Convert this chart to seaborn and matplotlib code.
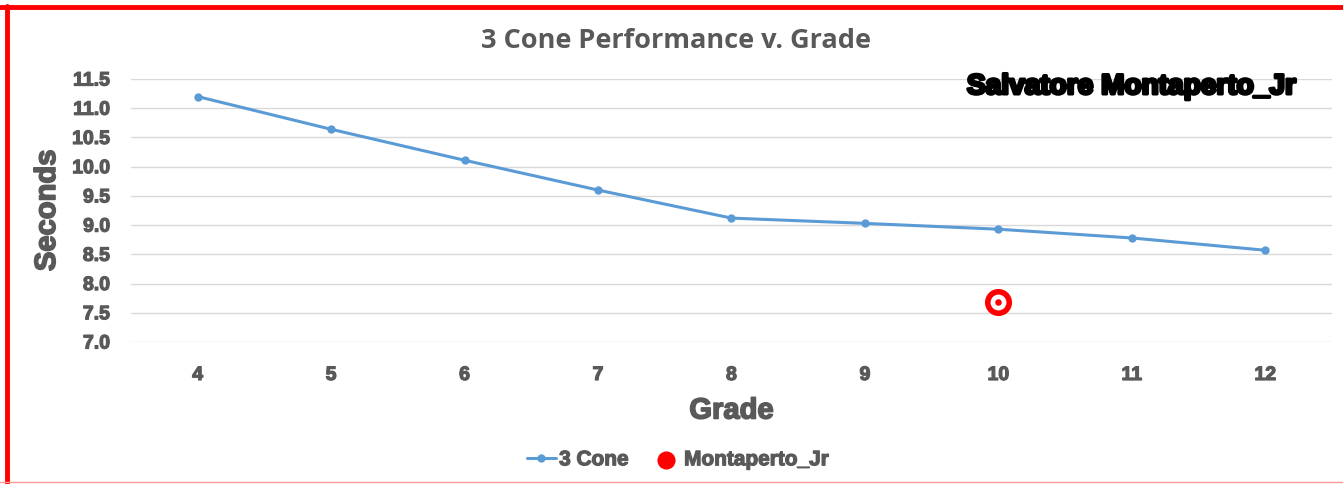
import pandas as pd
import matplotlib.pyplot as plt
import matplotlib.patheffects as pe
from matplotlib.lines import Line2D
import seaborn as sns

# data
grades = ['4', '5', '6', '7', '8', '9', '10', '11', '12']
cone_seconds = [11.20, 10.64, 10.11, 9.60, 9.12, 9.03, 8.93, 8.78, 8.57]
athlete_grade = ['10']
athlete_seconds = [7.68]
y_ticks = [7.0, 7.5, 8.0, 8.5, 9.0, 9.5, 10.0, 10.5, 11.0, 11.5]

GREY = '#595959'
BLUE = '#5B9BD5'
RED = '#FF0000'

sns.set_theme(style='white')
plt.rcParams['font.family'] = ['Liberation Sans', 'DejaVu Sans']


def heavy(color, w):
    # fake an Arial Black look by stroking the bold face
    return [pe.withStroke(linewidth=w, foreground=color)]


df = pd.DataFrame({'grade': grades, 'seconds': cone_seconds})
df['pos'] = range(len(grades))
ath = pd.DataFrame({'pos': [grades.index(g) for g in athlete_grade],
                    'seconds': athlete_seconds})

fig = plt.figure(figsize=(13.43, 4.85), dpi=100)
ax = fig.add_axes([0.0975, 0.2928, 0.8943, 0.5422])

sns.lineplot(data=df, x='pos', y='seconds', ax=ax, color=BLUE, linewidth=2.2,
             marker='o', markersize=6, markeredgewidth=0, label='3 Cone')
# bullseye marker for the athlete
sns.scatterplot(data=ath, x='pos', y='seconds', ax=ax, color=RED, s=380,
                linewidth=0, label='Montaperto_Jr', zorder=5)
sns.scatterplot(data=ath, x='pos', y='seconds', ax=ax, color='white', s=130,
                linewidth=0, zorder=6, legend=False)
sns.scatterplot(data=ath, x='pos', y='seconds', ax=ax, color=RED, s=22,
                linewidth=0, zorder=7, legend=False)

ax.set_xlim(-0.5, len(grades) - 0.5)
ax.set_ylim(7.0, 11.5)
ax.set_yticks(y_ticks)
ax.set_yticklabels([f'{t:.1f}' for t in y_ticks])
ax.set_xticks(range(len(grades)))
ax.set_xticklabels(grades)
ax.tick_params(axis='both', length=0, labelsize=14, labelcolor=GREY)
ax.tick_params(axis='x', pad=18)
ax.tick_params(axis='y', pad=15)
for lab in ax.get_xticklabels() + ax.get_yticklabels():
    lab.set_fontweight('bold')
    lab.set_path_effects(heavy(GREY, 0.9))

ax.yaxis.grid(True, color='#D9D9D9', linewidth=1)
ax.xaxis.grid(False)
for s in ax.spines.values():
    s.set_visible(False)

ax.set_xlabel('Grade', fontsize=21, fontweight='bold', color=GREY, labelpad=9,
              path_effects=heavy(GREY, 1.2))
ax.set_ylabel('Seconds', fontsize=21, fontweight='bold', color=GREY, labelpad=8,
              path_effects=heavy(GREY, 1.2))

fig.text(0.503, 0.915, '3 Cone Performance v. Grade', ha='center', va='center',
         fontsize=19.5, fontweight='bold', color=GREY,
         family=['Open Sans', 'DejaVu Sans'])

ax.text(0.97, 0.97, 'Salvatore Montaperto_Jr', transform=ax.transAxes,
        ha='right', va='center', fontsize=20.2, fontweight='bold', color='black',
        path_effects=heavy('black', 2.3))

handles, labels = ax.get_legend_handles_labels()
leg = fig.legend(handles, labels, loc='center', bbox_to_anchor=(0.505, 0.05),
                 ncol=2, frameon=False, fontsize=15, handlelength=1.4,
                 columnspacing=1.1, handletextpad=0.15)
leg.legend_handles[1].set_sizes([170])
for t in leg.get_texts():
    t.set_color(GREY)
    t.set_fontweight('bold')
    t.set_path_effects(heavy(GREY, 0.9))
if ax.get_legend():
    ax.get_legend().remove()

# red frame like the screenshot
fig.add_artist(Line2D([0.0052, 0.0052], [0.0, 0.985], transform=fig.transFigure,
                      color=RED, linewidth=3.5))
fig.add_artist(Line2D([0.0, 1.0], [0.984, 0.984], transform=fig.transFigure,
                      color=RED, linewidth=3.5))
fig.add_artist(Line2D([0.0, 1.0], [0.004, 0.004], transform=fig.transFigure,
                      color='#FF9999', linewidth=1))

fig.savefig('out.png', dpi=100, facecolor='white')
